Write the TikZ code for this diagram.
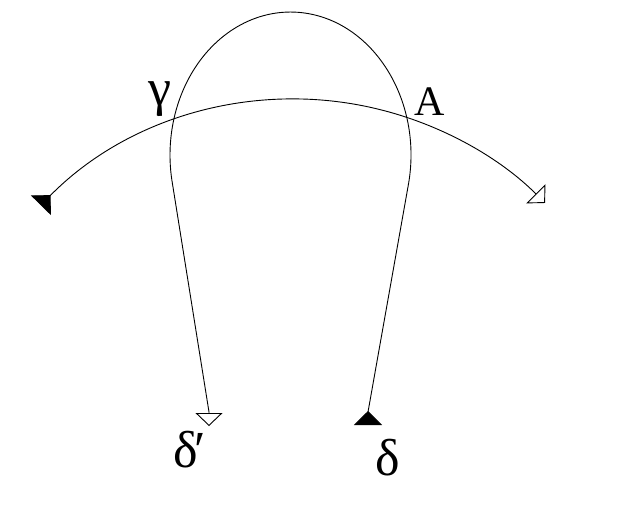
\documentclass[tikz,border=0pt]{standalone}
\usepackage{fontspec}
\setmainfont{Liberation Serif}
\newfontfamily\labfont{Liberation Serif}
\usetikzlibrary{arrows.meta,calc}
\begin{document}
\begin{tikzpicture}[x=1pt,y=-1pt,
  curve/.style={line width=0.9pt},
  starttip/.style={{Triangle[reversed,length=14pt,width=28pt]}-{Triangle[open,length=13pt,width=27pt]}},
  greek/.style={font=\labfont\fontsize{52}{52}\selectfont, inner sep=0pt},
  latin/.style={font=\labfont\fontsize{42}{42}\selectfont, inner sep=0pt}]
\useasboundingbox (0,0) rectangle (618,514);
% big arc
\coordinate (C) at (294,454);
\coordinate (L) at ($(C)+(135.5:355pt)$);
\draw[curve, starttip] (L) arc[start angle=135.5, end angle=45, radius=355pt];
% U-shaped curve
\coordinate (d) at (368,425);
\coordinate (da) at (368,412);
\coordinate (ur) at (408.7,182.8);
\coordinate (ul) at (172.3,182.8);
\coordinate (dpb) at (209,412);
\coordinate (dp) at (209,426);
\draw[curve, starttip] (d) -- (da) -- (ur)
  arc[start angle=-11.2, end angle=191.2, x radius=120.5pt, y radius=143pt]
  -- (dpb) -- (dp);
% labels
\node[greek, anchor=base] (gamma) at (159.5,105) {γ};
\node[latin, anchor=base] (A) at (430,115) {A};
\node[greek, anchor=base west] (dprime) at (173,467) {δ\kern-3pt′};
\node[greek, anchor=base] (delta) at (388,475) {δ};
\end{tikzpicture}
\end{document}
